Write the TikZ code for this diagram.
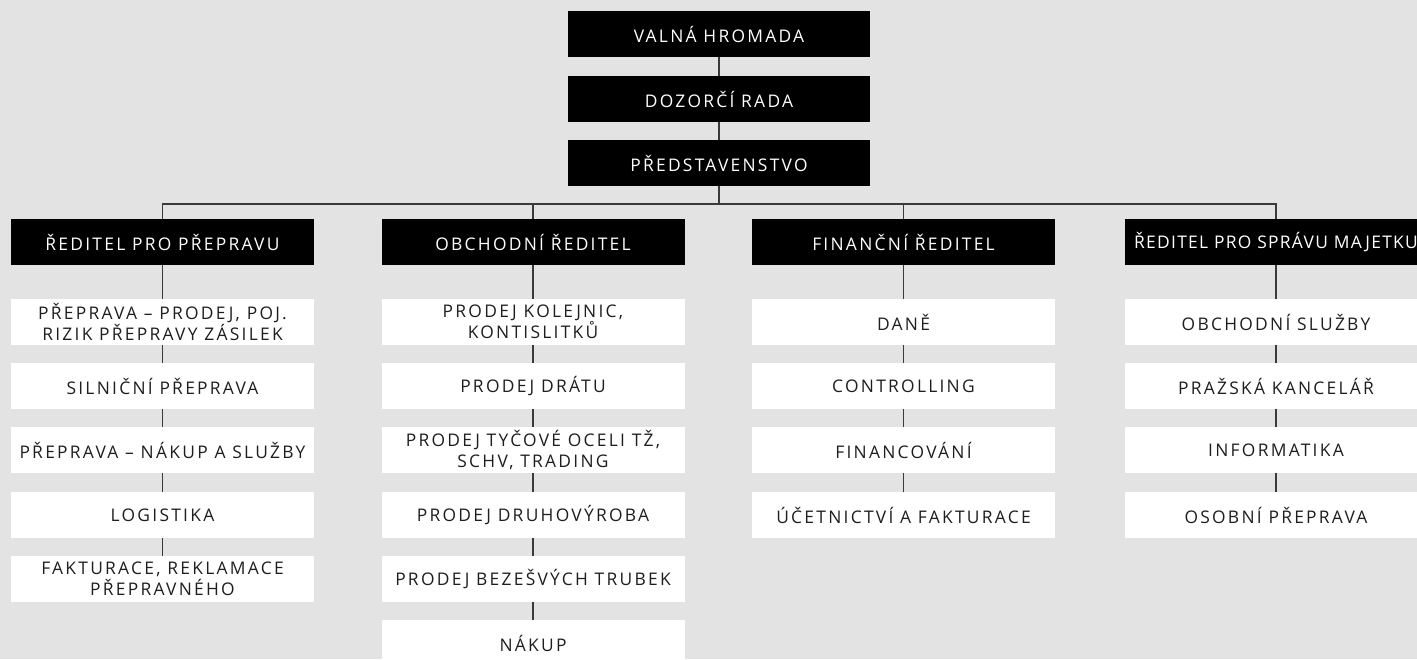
\documentclass[tikz,border=0pt]{standalone}
\usepackage{fontspec}
\setmainfont{Open Sans}[LetterSpace=13]
\newfontfamily\tightfont{Open Sans}[LetterSpace=7.5]
\definecolor{bg}{HTML}{E3E3E3}
\definecolor{ln}{HTML}{3A3A3A}
\definecolor{tx}{HTML}{1E1E1E}
\begin{document}
\begin{tikzpicture}[x=1pt,y=-1pt,
  box/.style={rectangle, inner sep=0pt, minimum width=303pt, minimum height=46pt, align=center,
    font=\fontsize{17.4}{20.5}\selectfont},
  headbox/.style={box, fill=black, text=white},
  unitbox/.style={box, fill=white, text=tx},
  conn/.style={draw=ln, line width=1.2pt}]
\useasboundingbox[fill=bg] (0,0) rectangle (1417,659);
% top chain
\node[headbox, minimum width=302pt] (vh) at (719,34) {VALNÁ HROMADA};
\node[headbox, minimum width=302pt] (dr) at (719,99) {DOZORČÍ RADA};
\node[headbox, minimum width=302pt] (pr) at (719,163) {PŘEDSTAVENSTVO};
% directors
\node[headbox] (d1) at (162.5,242) {ŘEDITEL PRO PŘEPRAVU};
\node[headbox] (d2) at (533,242) {OBCHODNÍ ŘEDITEL};
\node[headbox] (d3) at (903.5,242) {FINANČNÍ ŘEDITEL};
\node[headbox, font=\tightfont\fontsize{17.4}{20.5}\selectfont, xshift=-2pt, minimum width=303pt] (d4) at (1278,242) {ŘEDITEL PRO SPRÁVU MAJETKU};
% column 1
\node[unitbox] (a1) at (162.5,322) {PŘEPRAVA – PRODEJ, POJ.\\RIZIK PŘEPRAVY ZÁSILEK};
\node[unitbox] (a2) at (162.5,386) {SILNIČNÍ PŘEPRAVA};
\node[unitbox] (a3) at (162.5,450) {PŘEPRAVA – NÁKUP A SLUŽBY};
\node[unitbox] (a4) at (162.5,515) {LOGISTIKA};
\node[unitbox] (a5) at (162.5,579) {FAKTURACE, REKLAMACE\\PŘEPRAVNÉHO};
% column 2
\node[unitbox] (b1) at (533,322) {PRODEJ KOLEJNIC,\\KONTISLITKŮ};
\node[unitbox] (b2) at (533,386) {PRODEJ DRÁTU};
\node[unitbox] (b3) at (533,450) {PRODEJ TYČOVÉ OCELI TŽ,\\SCHV, TRADING};
\node[unitbox] (b4) at (533,515) {PRODEJ DRUHOVÝROBA};
\node[unitbox] (b5) at (533,579) {PRODEJ BEZEŠVÝCH TRUBEK};
\node[unitbox] (b6) at (533,643) {NÁKUP};
% column 3
\node[unitbox] (c1) at (903.5,322) {DANĚ};
\node[unitbox] (c2) at (903.5,386) {CONTROLLING};
\node[unitbox] (c3) at (903.5,450) {FINANCOVÁNÍ};
\node[unitbox] (c4) at (903.5,515) {ÚČETNICTVÍ A FAKTURACE};
% column 4
\node[unitbox] (e1) at (1276,322) {OBCHODNÍ SLUŽBY};
\node[unitbox] (e2) at (1276,386) {PRAŽSKÁ KANCELÁŘ};
\node[unitbox] (e3) at (1276,450) {INFORMATIKA};
\node[unitbox] (e4) at (1276,515) {OSOBNÍ PŘEPRAVA};
% connectors
\coordinate (bus) at (719,204);
\draw[conn] (vh) -- (dr);
\draw[conn] (dr) -- (pr);
\draw[conn] (pr.south) -- (bus);
\draw[conn] (d1.north) |- (bus) -| (d4.north);
\draw[conn] (d2.north) -- (d2.north |- bus);
\draw[conn] (d3.north) -- (d3.north |- bus);
\foreach \u/\v in {d1/a1,a1/a2,a2/a3,a3/a4,a4/a5,
                  d2/b1,b1/b2,b2/b3,b3/b4,b4/b5,b5/b6,
                  d3/c1,c1/c2,c2/c3,c3/c4,
                  d4/e1,e1/e2,e2/e3,e3/e4}
  \draw[conn] (\u) -- (\v);
\end{tikzpicture}
\end{document}
